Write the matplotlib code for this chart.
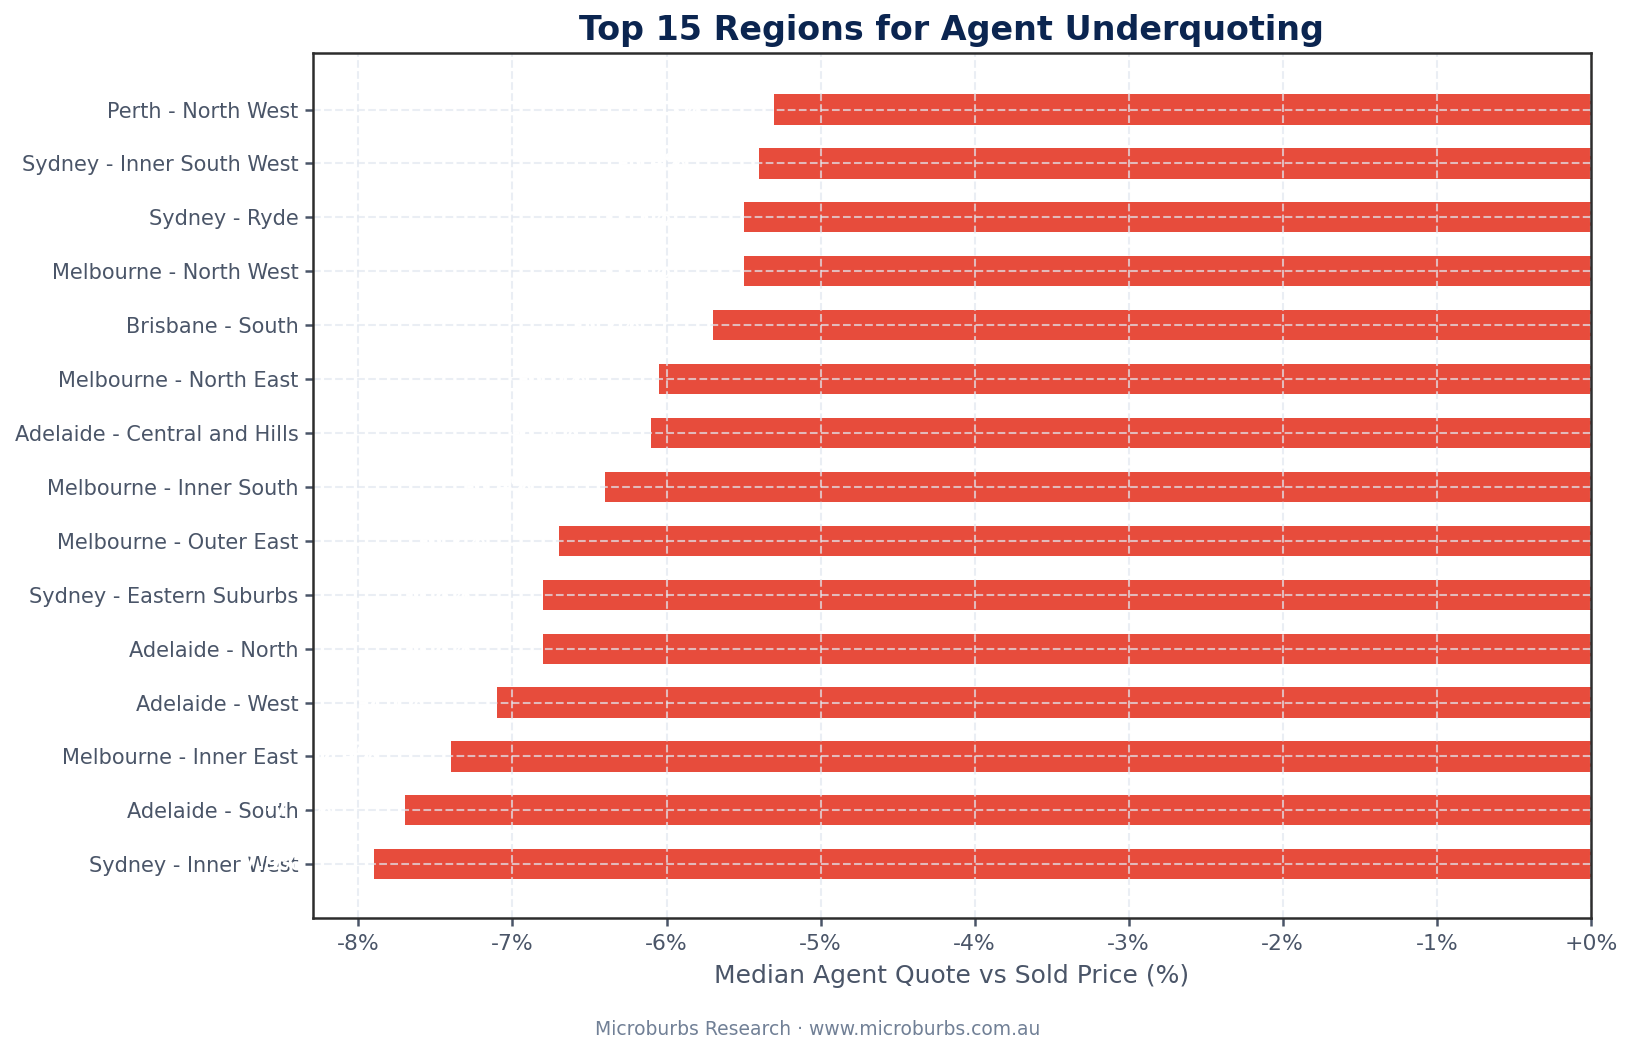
import matplotlib
matplotlib.use("Agg")
import matplotlib.pyplot as plt
from matplotlib.ticker import FuncFormatter

regions = [
    "Perth - North West",
    "Sydney - Inner South West",
    "Sydney - Ryde",
    "Melbourne - North West",
    "Brisbane - South",
    "Melbourne - North East",
    "Adelaide - Central and Hills",
    "Melbourne - Inner South",
    "Melbourne - Outer East",
    "Sydney - Eastern Suburbs",
    "Adelaide - North",
    "Adelaide - West",
    "Melbourne - Inner East",
    "Adelaide - South",
    "Sydney - Inner West",
]
values = [-5.3, -5.4, -5.5, -5.5, -5.7, -6.05, -6.1, -6.4, -6.7, -6.8, -6.8, -7.1, -7.4, -7.7, -7.9]
xticks = [-8, -7, -6, -5, -4, -3, -2, -1, 0]

TEXT = "#4a5568"
NAVY = "#0b2550"
RED = "#e74c3c"

fig = plt.figure(figsize=(10.9, 7.02), dpi=150)
ax = fig.add_axes([0.1914, 0.128, 0.973 - 0.1914, 0.9497 - 0.128])

n = len(regions)
ypos = [n - 1 - i for i in range(n)]
ax.barh(ypos, values, height=0.56, color=RED, zorder=1)

for y, v in zip(ypos, values):
    ax.text(v - 0.47, y, f"{v:.1f}%", ha="right", va="center", color="white",
            fontsize=10, fontweight="bold", zorder=3)

ax.set_yticks(ypos)
ax.set_yticklabels(regions)
ax.set_xticks(xticks)
ax.xaxis.set_major_formatter(FuncFormatter(lambda x, p: f"{x:+.0f}%" if x == 0 else f"{x:.0f}%"))
ax.set_xlim(min(values) * 1.05, 0)
ax.set_ylim(-1, n + 0.05)

ax.set_axisbelow(False)
ax.grid(True, linestyle="--", color="#e2e8f0", alpha=0.7, linewidth=1.0, zorder=2)

for s in ax.spines.values():
    s.set_color("#2d2d2d")
    s.set_linewidth(1.2)
    s.set_zorder(5)

ax.tick_params(axis="both", colors="#4a5568", labelcolor=TEXT, length=4, width=1.2)
ax.tick_params(axis="y", labelsize=10, pad=3)
ax.tick_params(axis="x", labelsize=10.5)

ax.set_xlabel("Median Agent Quote vs Sold Price (%)", fontsize=12, color=TEXT, labelpad=5)
ax.set_title("Top 15 Regions for Agent Underquoting", fontsize=16, fontweight="bold",
             color=NAVY, pad=6)

fig.text(0.5, 0.022, "Microburbs Research · www.microburbs.com.au",
         ha="center", va="center", fontsize=9, color="#718096")

fig.savefig("out.png", dpi=150)
